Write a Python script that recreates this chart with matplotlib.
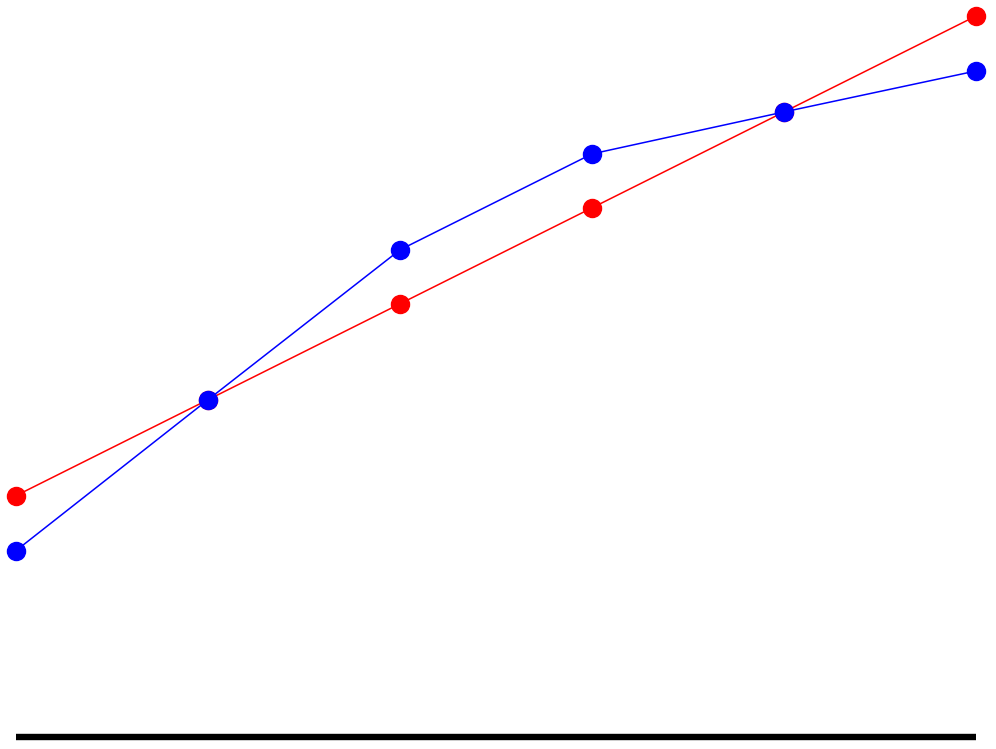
import matplotlib
matplotlib.use("Agg")
import matplotlib.pyplot as plt

# -------------------------------
# Data
# -------------------------------
x_vals = [0, 1, 2, 3, 4, 5]
red_vals = [24.1, 33.7, 43.3, 52.9, 62.5, 72.1]
blue_vals = [18.6, 33.7, 48.7, 58.3, 62.5, 66.6]

# -------------------------------
# Figure
# -------------------------------
fig = plt.figure(figsize=(9.96, 7.49), dpi=100)
ax = fig.add_axes([16 / 996, (749 - 736.5) / 749, 960 / 996, 720.5 / 749])

ax.plot(x_vals, red_vals, color="red", linewidth=1.1, marker="o",
        markersize=13, clip_on=False, zorder=3)
ax.plot(x_vals, blue_vals, color="blue", linewidth=1.1, marker="o",
        markersize=13, clip_on=False, zorder=4)

# thick baseline along the bottom
ax.plot([x_vals[0], x_vals[-1]], [0, 0], color="black", linewidth=4.6,
        solid_capstyle="butt", clip_on=False, zorder=2)

ax.set_xlim(x_vals[0], x_vals[-1])
ax.set_ylim(0, max(red_vals))
ax.axis("off")

fig.savefig("out.png", dpi=100)
